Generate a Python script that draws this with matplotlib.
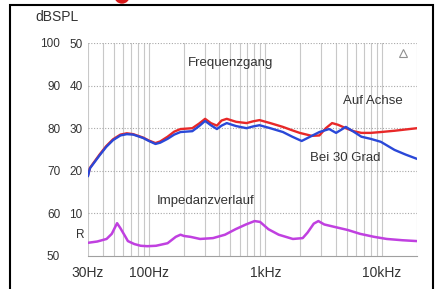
import numpy as np
import matplotlib
matplotlib.use("Agg")
import matplotlib.pyplot as plt
from matplotlib.patches import Rectangle, Ellipse

plt.rcParams['font.family'] = ['Liberation Sans', 'DejaVu Sans']

# Auf Achse (red), dB SPL
f_axis = [30, 31.2, 37.9, 43, 49.2, 57, 64.6, 73.3, 89.2, 100, 113.8, 125, 144.6, 165,
          186.7, 235.8, 270, 303.6, 340, 383.4, 420, 465.7, 560, 689, 780, 890, 1100,
          1413, 1700, 1969, 2500, 2906, 3300, 3734, 4200, 4901, 5700, 6665, 8000, 9793,
          12830, 16000, 20000]
db_axis = [68.9, 70.7, 73.9, 75.8, 77.4, 78.5, 78.8, 78.6, 77.8, 77.1, 76.5, 76.9, 78.0, 79.2,
           79.8, 80.0, 81.1, 82.2, 81.2, 80.6, 81.8, 82.2, 81.5, 81.2, 81.6, 81.9, 81.2,
           80.3, 79.5, 78.9, 78.2, 78.3, 80.0, 81.2, 80.8, 80.0, 79.3, 78.9, 78.9, 79.1,
           79.4, 79.7, 80.0]

# Bei 30 Grad (blue), dB SPL
f_30 = [30, 31.2, 37.9, 43, 49.2, 57, 64.6, 73.3, 89.2, 100, 113.8, 125, 144.6, 165,
        186.7, 235.8, 270, 303.6, 340, 383.4, 420, 465.7, 560, 689, 780, 890, 1100,
        1413, 1700, 2047, 2500, 2906, 3525, 4041, 4901, 5700, 6665, 8000, 9793,
        12830, 16000, 20000]
db_30 = [68.8, 70.6, 73.7, 75.6, 77.2, 78.3, 78.6, 78.5, 77.7, 77.0, 76.3, 76.6, 77.5, 78.5,
         79.1, 79.3, 80.5, 81.7, 80.7, 79.8, 80.6, 81.2, 80.5, 80.0, 80.4, 80.7, 80.0,
         79.1, 78.0, 77.0, 78.2, 79.1, 79.8, 78.9, 80.3, 79.2, 78.0, 77.5, 76.8,
         74.9, 73.8, 72.8]

# Impedanzverlauf, Ohm
f_imp = [30, 36, 43.3, 48, 53.3, 57, 62.3, 66, 75, 85, 96.9, 115, 144.6, 170, 186.7, 200,
         226.8, 274.8, 354.6, 450, 555, 680, 807, 900, 1060, 1300, 1720, 2089, 2300, 2600,
         2847, 3200, 3961, 5096, 6500, 8558, 11000, 15000, 20000]
ohm = [3.1, 3.4, 4.0, 5.2, 7.7, 6.5, 4.7, 3.5, 2.8, 2.4, 2.3, 2.4, 3.0, 4.5, 5.0, 4.7,
       4.5, 4.0, 4.2, 5.0, 6.3, 7.4, 8.2, 8.0, 6.3, 5.0, 4.0, 4.2, 5.5, 7.6,
       8.2, 7.4, 6.8, 6.1, 5.2, 4.5, 4.0, 3.7, 3.5]

db_ticks = [50, 60, 70, 80, 90, 100]
ohm_ticks = [10, 20, 30, 40, 50]
x_ticks = [30, 100, 1000, 10000]
x_labels = ['30Hz', '100Hz', '1kHz', '10kHz']

txt = '#333333'
W, H = 436, 289
fig = plt.figure(figsize=(W / 100, H / 100), dpi=100)
fig.patch.set_facecolor('white')
ax = fig.add_axes([88 / W, 1 - 256 / H, 329 / W, 213 / H])

ax.set_xscale('log')
ax.set_xlim(30, 20000)
ax.set_ylim(50, 100)

minor = [m * 10 ** e for e in range(1, 5) for m in range(1, 10) if 30 <= m * 10 ** e <= 20000]
ax.set_xticks(minor, minor=True)
ax.set_xticks(x_ticks)
ax.set_xticklabels(x_labels, fontsize=10, color=txt)
ax.xaxis.set_minor_formatter(plt.NullFormatter())
ax.tick_params(axis='x', which='both', length=0, pad=7)
for f in minor:
    ax.axvline(f, color='#c8c8c8', lw=0.8, zorder=0)

ax.set_yticks(db_ticks)
ax.set_yticklabels([str(v) for v in db_ticks], fontsize=8.5, color=txt)
ax.tick_params(axis='y', length=0, pad=20)
for v in db_ticks[1:]:
    ax.axhline(v, color='#a8a8a8', lw=0.8, ls=(0, (1, 1.5)), zorder=0)

for s in ['top', 'left', 'right']:
    ax.spines[s].set_visible(False)
ax.spines['bottom'].set_color('#a0a0a0')

ax.plot(f_imp, np.array(ohm) + 50, color='#c040e0', lw=1.8, zorder=3)
ax.plot(f_axis, db_axis, color='#e82828', lw=1.7, zorder=3)
ax.plot(f_30, db_30, color='#2a48d8', lw=1.7, zorder=4)

ax2 = ax.twinx()
ax2.set_ylim(0, 50)
ax2.yaxis.tick_left()
ax2.set_yticks(ohm_ticks)
ax2.set_yticklabels([str(v) for v in ohm_ticks], fontsize=8.5, color=txt)
ax2.tick_params(axis='y', length=0, pad=4)
for s in ax2.spines.values():
    s.set_visible(False)
ax2.text(-0.012, 5, 'R', transform=ax2.get_yaxis_transform(), ha='right', va='center',
         fontsize=8.5, color=txt)

ax.text(216, 95.3, 'Frequenzgang', fontsize=9.5, color=txt, va='center')
ax.text(4640, 86.3, 'Auf Achse', fontsize=9.5, color=txt, va='center')
ax.text(2400, 73.0, 'Bei 30 Grad', fontsize=9.5, color=txt, va='center')
ax.text(117, 62.9, 'Impedanzverlauf', fontsize=9.5, color=txt, va='center')
ax.plot([0.957], [0.955], transform=ax.transAxes, marker='^', ms=6, mfc='none',
        mec='#909090', mew=0.8, clip_on=False)

fig.text(35 / W, 1 - 17 / H, 'dBSPL', fontsize=10, color=txt, va='center')

fig.patches.append(Rectangle((10 / W, -0.1), 423 / W, 1.1 - 5 / H, transform=fig.transFigure,
                             fill=False, ec='black', lw=1.5))
fig.patches.append(Ellipse((122 / W, 1 + 4 / H), 14 / W, 14 / H, transform=fig.transFigure,
                           color='#d81818', clip_on=False))

fig.savefig('out.png', dpi=100, facecolor='white')
